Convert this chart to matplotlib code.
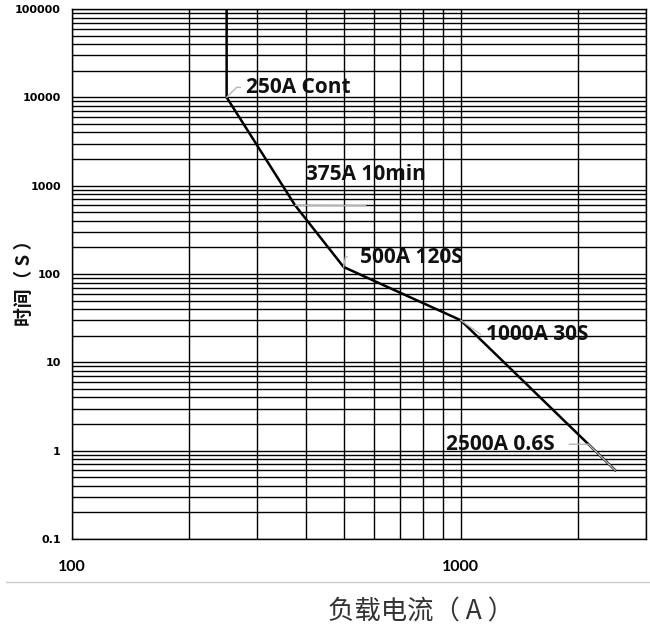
import matplotlib.pyplot as plt
import numpy as np
from matplotlib.ticker import FixedLocator, LogLocator, NullFormatter
from matplotlib.lines import Line2D

# time-current characteristic (A, s)
current = [250, 250, 375, 500, 1000, 2500]
trip_time = [100000, 10000, 600, 120, 30, 0.6]

# labelled points: (current, time, text, offset px, leader relpos, connection)
labels = ['250A Cont', '375A 10min', '500A 120S', '1000A 30S', '2500A 0.6S']
label_pts = [(250, 10000), (375, 600), (500, 120), (1000, 30), (2500, 0.6)]
label_offsets = [(19, 10), (11, 31), (16, 10), (25, -14), (-169, 26)]
leader_relpos = [(-0.05, 0.5), (0.5, -1.0), (-0.12, 0.5), (-0.05, 0.5), (1.13, 0.5)]
leader_style = ['angle,angleA=0,angleB=45,rad=0', 'arc3', 'angle,angleA=0,angleB=80,rad=0',
                'arc3', 'angle,angleA=0,angleB=-44,rad=0']

xticks = [100, 1000]
xtick_labels = ['100', '1000']
yticks = [0.1, 1, 10, 100, 1000, 10000, 100000]
ytick_labels = ['0.1', '1', '10', '100', '1000', '10000', '100000']

fig = plt.figure(figsize=(6.5, 6.36), dpi=100)
ax = fig.add_axes([72/650, 1-539/636, (646-72)/650, (539-9)/636])

ax.set_xscale('log')
ax.set_yscale('log')
ax.set_xlim(100, 3000)
ax.set_ylim(0.1, 100000)

ax.xaxis.set_major_locator(FixedLocator(xticks))
ax.yaxis.set_major_locator(FixedLocator(yticks))
ax.xaxis.set_minor_locator(LogLocator(base=10, subs=np.arange(2, 10), numticks=100))
ax.yaxis.set_minor_locator(LogLocator(base=10, subs=np.arange(2, 10), numticks=100))
ax.xaxis.set_minor_formatter(NullFormatter())
ax.yaxis.set_minor_formatter(NullFormatter())
ax.set_xticklabels(xtick_labels, fontfamily='Lato', fontweight='bold', fontsize=11.5)
ax.set_yticklabels(ytick_labels, fontfamily='DejaVu Sans', fontweight='bold', fontsize=8)
ax.tick_params(which='both', length=0)
ax.tick_params(axis='x', pad=15)
ax.tick_params(axis='y', pad=8)

ax.grid(which='both', color='black', lw=1.0)
for s in ax.spines.values():
    s.set_color('black')
    s.set_linewidth(1.0)

ax.plot(current, trip_time, color='black', lw=1.8, zorder=3)

for txt, pt, off, rp, cs in zip(labels, label_pts, label_offsets, leader_relpos, leader_style):
    ax.annotate(txt, xy=pt, xytext=off, textcoords='offset pixels',
                ha='left', va='center', fontfamily='Open Sans', fontweight='bold',
                fontsize=15, color='#111111', zorder=4,
                arrowprops=dict(arrowstyle='-', color='#b5b5b5', lw=1.0, relpos=rp,
                                connectionstyle=cs, shrinkA=0, shrinkB=0, patchA=None))

cjk = ['Noto Sans CJK SC', 'DejaVu Sans']
fig.text(24/650, 1-278/636, '时间（ S ）', rotation=90, ha='center', va='center',
         fontfamily=cjk, fontweight='bold', fontsize=13.5, color='#111111')

fig.add_artist(Line2D([6/650, 1], [1-582/636, 1-582/636], color='#cccccc', lw=1.0))
fig.text(421/650, 1-612/636, '负载电流（ A ）', ha='center', va='center',
         fontfamily=cjk, fontsize=19, color='#333333')

fig.savefig('out.png', dpi=100, facecolor='white')
